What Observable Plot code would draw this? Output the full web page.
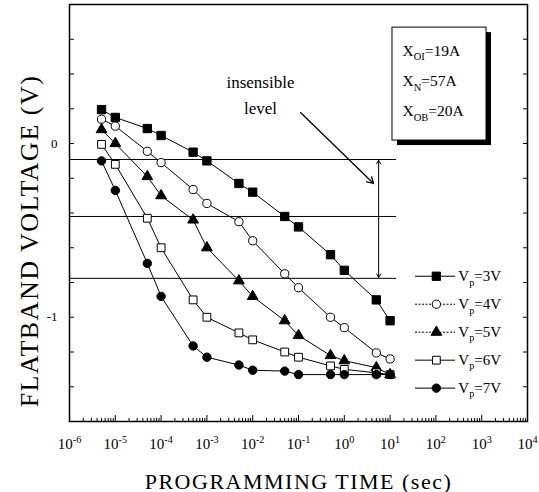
<!DOCTYPE html>
<html><head><meta charset="utf-8">
<script src="https://cdn.jsdelivr.net/npm/d3@7"></script>
<script src="https://cdn.jsdelivr.net/npm/@observablehq/plot@0.6"></script>
<style>html,body{margin:0;padding:0;background:#fff;} #chart svg{display:block;}</style>
</head><body><div id="chart"></div>
<script>
// ---- data ----
const times = [5e-6, 1e-5, 5e-5, 1e-4, 5e-4, 1e-3, 5e-3, 1e-2, 5e-2, 1e-1, 5e-1, 1, 5, 10];
const seriesNames = ["V_{p}=3V", "V_{p}=4V", "V_{p}=5V", "V_{p}=6V", "V_{p}=7V"];
const vfb3V = [0.195, 0.15, 0.086, 0.046, -0.05, -0.10, -0.23, -0.28, -0.42, -0.48, -0.64, -0.73, -0.90, -1.02];
const vfb4V = [0.14, 0.10, -0.045, -0.11, -0.265, -0.345, -0.45, -0.56, -0.75, -0.83, -1.00, -1.06, -1.205, -1.24];
const vfb5V = [0.08, 0.0, -0.19, -0.30, -0.44, -0.60, -0.79, -0.88, -1.02, -1.105, -1.22, -1.25, -1.29, -1.33];
const vfb6V = [-0.005, -0.12, -0.43, -0.60, -0.90, -1.00, -1.09, -1.13, -1.20, -1.23, -1.28, -1.30, -1.32, -1.33];
const vfb7V = [-0.10, -0.27, -0.69, -0.88, -1.165, -1.23, -1.275, -1.305, -1.31, -1.33, -1.33, -1.33, -1.33, -1.33];
const seriesValues = [vfb3V, vfb4V, vfb5V, vfb6V, vfb7V];
const insensibleLevels = [-0.092, -0.42, -0.776];
const xMajorTicks = [1e-6, 1e-5, 1e-4, 1e-3, 1e-2, 1e-1, 1, 1e1, 1e2, 1e3, 1e4];
const xTickLabels = ["10^{-6}", "10^{-5}", "10^{-4}", "10^{-3}", "10^{-2}", "10^{-1}", "10^{0}", "10^{1}", "10^{2}", "10^{3}", "10^{4}"];
const yLabelTicks = [0, -1];
const yTickLabels = ["0", "-1"];
const xLabel = "PROGRAMMING TIME (sec)";
const yLabel = "FLATBAND VOLTAGE (V)";
const boxLines = ["X_{OI}=19A", "X_{N}=57A", "X_{OB}=20A"];
const noteLines = ["insensible", "level"];

// ---- derived tables ----
const table = seriesNames.flatMap((s, i) => times.map((t, j) => ({series: s, t, v: seriesValues[i][j]})));
const xMinorTicks = d3.range(-6, 4).flatMap(n => d3.range(2, 10).map(k => k * Math.pow(10, n)));
const yMinorTicks = d3.range(-8, 5).map(k => +(k * 0.2).toFixed(1));

// ---- styles ----
const styles = [
  {symbol: "square", fill: "black", r: 4.7, dash: null},
  {symbol: "circle", fill: "white", r: 4.1, dash: "2,1.5"},
  {symbol: "triangle", fill: "black", r: 4.0, dash: "2,1.5"},
  {symbol: "square", fill: "white", r: 4.4, dash: null},
  {symbol: "circle", fill: "black", r: 4.2, dash: null}
];
const P = (e) => Math.pow(10, e);
const legendY = (i) => -0.764 - 0.161 * i;
const boxY = (i) => 0.535 - 0.175 * i;
const noteY = (i) => 0.348 - 0.144 * i;

const marks = [];
// frame and axes
marks.push(Plot.frame({stroke: "black", strokeWidth: 1.5}));
marks.push(Plot.axisY(yMinorTicks, {anchor: "left", tickSize: -5, tickFormat: () => "", label: null}));
marks.push(Plot.axisY(yMinorTicks, {anchor: "right", tickSize: -5, tickFormat: () => "", label: null}));
marks.push(Plot.axisY(yLabelTicks, {anchor: "left", tickSize: 0, tickPadding: 12, fontSize: 13, tickFormat: (d) => yTickLabels[yLabelTicks.indexOf(d)], label: null}));
marks.push(Plot.axisX(xMinorTicks, {anchor: "bottom", tickSize: -3, tickFormat: () => "", label: null}));
marks.push(Plot.axisX(xMajorTicks, {anchor: "bottom", tickSize: -6, tickFormat: () => "", label: null}));
marks.push(Plot.axisX(xMajorTicks, {anchor: "bottom", tickSize: 0, tickPadding: 17, fontSize: 15, tickFormat: (d) => xTickLabels[xMajorTicks.indexOf(d)], label: null}));
marks.push(Plot.text([yLabel], {text: d => d, frameAnchor: "left", textAnchor: "middle", lineAnchor: "middle", rotate: -90, dx: -40, dy: 28, fontSize: 26}));
marks.push(Plot.text([xLabel], {text: d => d, frameAnchor: "bottom", textAnchor: "middle", lineAnchor: "middle", dy: 60, fontSize: 22}));

// insensible level lines and arrows
marks.push(Plot.ruleY(insensibleLevels, {x1: 1e-6, x2: P(1.14), stroke: "black", strokeWidth: 1}));
const mid = (insensibleLevels[0] + insensibleLevels[2]) / 2;
marks.push(Plot.arrow([0], {x1: P(0.75), x2: P(0.75), y1: mid, y2: insensibleLevels[0] - 0.005, stroke: "black", strokeWidth: 1, headLength: 6}));
marks.push(Plot.arrow([0], {x1: P(0.75), x2: P(0.75), y1: mid, y2: insensibleLevels[2] + 0.005, stroke: "black", strokeWidth: 1, headLength: 6}));
marks.push(Plot.arrow([0], {x1: P(-0.956), y1: 0.178, x2: P(0.638), y2: -0.23, stroke: "black", strokeWidth: 1.3, headLength: 8}));
marks.push(Plot.text(noteLines, {text: d => d, x: P(-1.83), y: (d, i) => noteY(i), fontSize: 17}));

// series
seriesNames.forEach((s, i) => {
  const rows = table.filter(d => d.series === s);
  marks.push(Plot.line(rows, {x: "t", y: "v", stroke: "black", strokeWidth: 1}));
});
seriesNames.forEach((s, i) => {
  const st = styles[i];
  const rows = table.filter(d => d.series === s);
  marks.push(Plot.dot(rows, {x: "t", y: "v", symbol: () => st.symbol, r: st.r, fill: st.fill, stroke: "black", strokeWidth: 1}));
});

// parameter box
marks.push(Plot.rect([0], {x1: P(1.052), x2: P(3.105), y1: 0.017, y2: 0.667, fill: "black", dx: 5, dy: 5}));
marks.push(Plot.rect([0], {x1: P(1.052), x2: P(3.105), y1: 0.017, y2: 0.667, fill: "white", stroke: "black", strokeWidth: 1}));
marks.push(Plot.text(boxLines, {text: d => d, x: P(1.271), y: (d, i) => boxY(i), textAnchor: "start", fontSize: 15.5}));

// legend
seriesNames.forEach((s, i) => {
  const st = styles[i];
  marks.push(Plot.ruleY([s], {y: () => legendY(i), x1: P(1.555), x2: P(2.43), stroke: "black", strokeWidth: 1, strokeDasharray: st.dash}));
  marks.push(Plot.dot([s], {x: P(2.01), y: () => legendY(i), symbol: () => st.symbol, r: st.r, fill: st.fill, stroke: "black", strokeWidth: 1}));
  marks.push(Plot.text([s], {text: d => d, x: P(2.49), y: () => legendY(i), textAnchor: "start", fontSize: 15}));
});

const plot = Plot.plot({
  width: 539, height: 492,
  marginLeft: 69, marginRight: 12, marginTop: 4, marginBottom: 71,
  x: {type: "log", domain: [1e-6, 1e4]},
  y: {domain: [-1.6, 0.8]},
  symbol: {type: "identity"},
  style: {fontFamily: "'Liberation Serif', 'Times New Roman', serif", fontSize: "15px", background: "white", color: "black", overflow: "visible"},
  marks
});
document.getElementById("chart").appendChild(plot);

// rich text: sub/superscripts
const NS = "http://www.w3.org/2000/svg";
d3.select(plot).selectAll("text").each(function () {
  const el = this;
  const s = el.textContent;
  if (!/[_^]\{/.test(s)) return;
  const fs = parseFloat(getComputedStyle(el).fontSize) || 15;
  while (el.firstChild) el.removeChild(el.firstChild);
  const re = /([_^])\{([^}]*)\}/g;
  let last = 0, cur = 0, m;
  const add = (txt, off, small) => {
    const t = document.createElementNS(NS, "tspan");
    t.textContent = txt;
    const dy = off - cur;
    if (dy !== 0) t.setAttribute("dy", dy.toFixed(2));
    if (small) t.setAttribute("font-size", (fs * 0.68).toFixed(1));
    cur = off;
    el.appendChild(t);
  };
  while ((m = re.exec(s))) {
    if (m.index > last) add(s.slice(last, m.index), 0, false);
    add(m[2], m[1] === "_" ? fs * 0.3 : -fs * 0.42, true);
    last = re.lastIndex;
  }
  if (last < s.length) add(s.slice(last), 0, false);
});
d3.select(plot).selectAll("text").each(function () {
  const s = this.textContent;
  if (s === xLabel || s === yLabel) this.setAttribute("letter-spacing", "1.5");
});
</script>
</body></html>
